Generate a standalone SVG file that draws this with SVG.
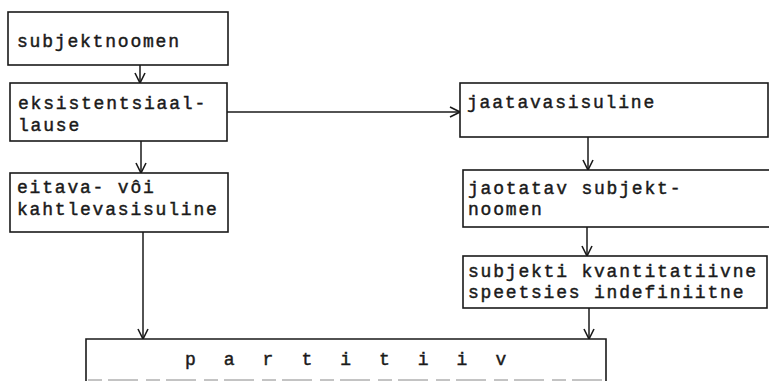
<svg xmlns="http://www.w3.org/2000/svg" width="769" height="382" viewBox="0 0 769 382">
<defs>
<style>
.box{fill:#fff;stroke:#1a1a1a;stroke-width:1.6}
.t{font-family:"Liberation Mono","Courier New",monospace;font-size:18px;letter-spacing:1.8px;fill:#1a1a1a;stroke:#1a1a1a;stroke-width:0.45}
.c{fill:none;stroke:#1a1a1a;stroke-width:1.5}
.faint{fill:none;stroke:#888;stroke-width:1;stroke-dasharray:14 6 30 8}
</style>
<marker id="ah" viewBox="0 0 12 12" refX="11" refY="6" markerWidth="12" markerHeight="12" markerUnits="userSpaceOnUse" orient="auto">
<path d="M1,1 L11,6 L1,11" fill="none" stroke="#1a1a1a" stroke-width="1.6"/>
</marker>
</defs>
<rect width="769" height="382" fill="#fff"/>
<g id="connectors">
<line class="c" x1="140" y1="65" x2="140" y2="83" marker-end="url(#ah)"/>
<line class="c" x1="141" y1="141" x2="141" y2="173" marker-end="url(#ah)"/>
<line class="c" x1="227" y1="112" x2="460" y2="112" marker-end="url(#ah)"/>
<line class="c" x1="588" y1="137" x2="588" y2="170" marker-end="url(#ah)"/>
<line class="c" x1="587" y1="227" x2="587" y2="256" marker-end="url(#ah)"/>
<line class="c" x1="143" y1="232" x2="143" y2="339" marker-end="url(#ah)"/>
<line class="c" x1="589" y1="308" x2="589" y2="339" marker-end="url(#ah)"/>
</g>
<g id="n-subjektnoomen">
<rect class="box" x="8" y="12" width="220" height="53"/>
<text class="t" x="17" y="47">subjektnoomen</text>
</g>
<g id="n-eksistentsiaallause">
<rect class="box" x="10" y="83" width="217" height="58"/>
<text class="t" x="18" y="109">eksistentsiaal-</text>
<text class="t" x="18" y="131">lause</text>
</g>
<g id="n-eitava">
<rect class="box" x="10" y="173" width="218" height="59"/>
<text class="t" x="17" y="193">eitava- vôi</text>
<text class="t" x="17" y="215">kahtlevasisuline</text>
</g>
<g id="n-jaatavasisuline">
<rect class="box" x="460" y="83" width="308" height="54"/>
<text class="t" x="467" y="108">jaatavasisuline</text>
</g>
<g id="n-jaotatav">
<rect class="box" x="463" y="170" width="310" height="57"/>
<text class="t" x="468" y="194">jaotatav subjekt-</text>
<text class="t" x="468" y="215">noomen</text>
</g>
<g id="n-subjekti">
<rect class="box" x="463" y="256" width="304" height="52"/>
<text class="t" x="468" y="277">subjekti kvantitatiivne</text>
<text class="t" x="468" y="298">speetsies indefiniitne</text>
</g>
<g id="n-partitiiv">
<path class="box" d="M86,381 L86,339 L606,339 L606,381"/>
<line class="faint" x1="88" y1="380" x2="604" y2="380"/>
<text class="t" x="185" y="365" style="letter-spacing:8.6px">p a r t i t i i v</text>
</g>
</svg>
